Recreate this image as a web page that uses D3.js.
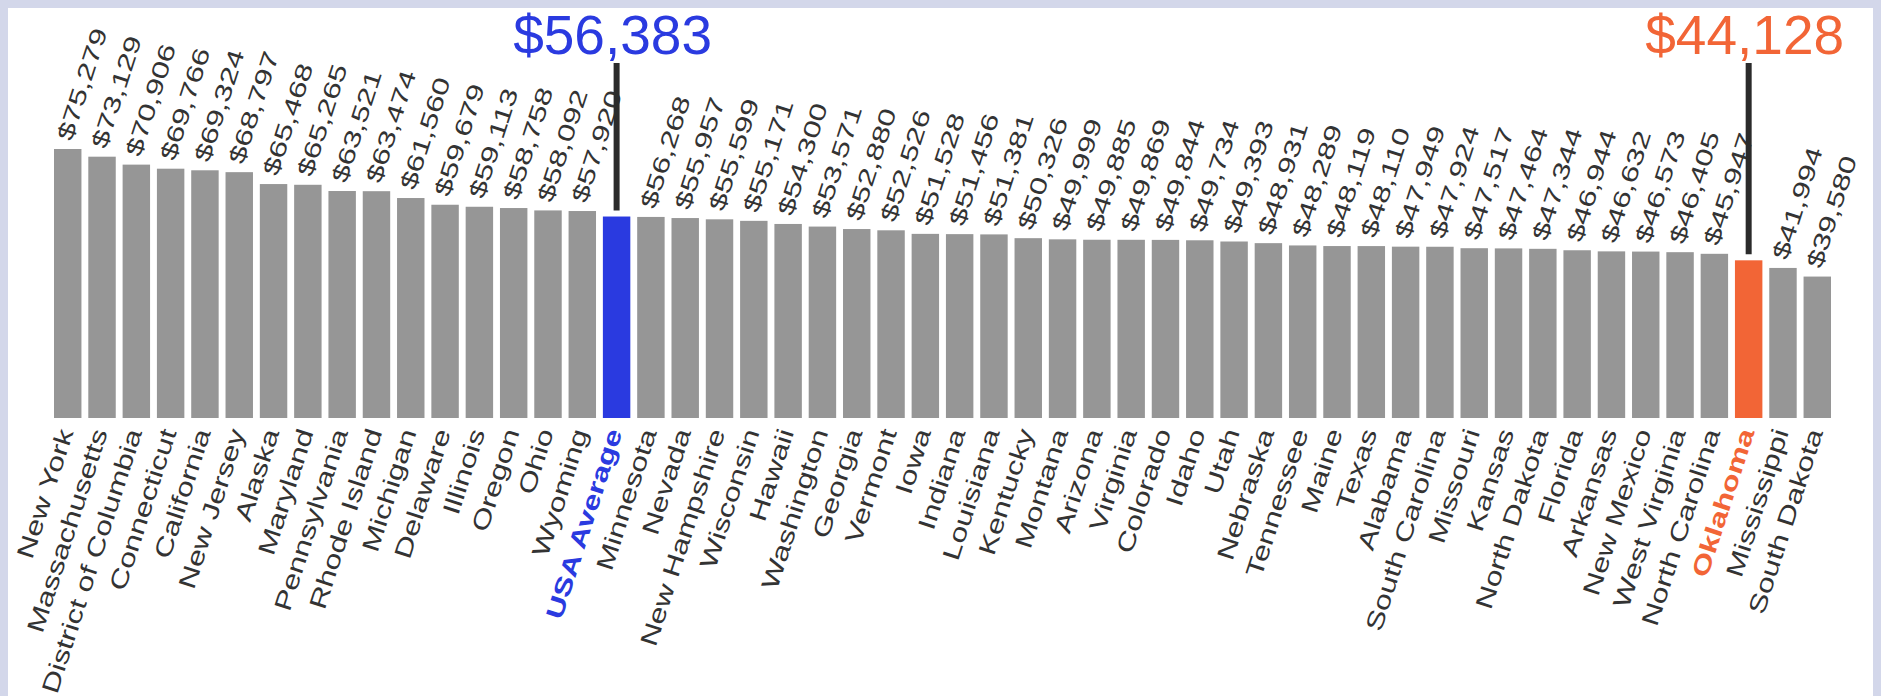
<!DOCTYPE html>
<html>
<head>
<meta charset="utf-8">
<script src="https://cdn.jsdelivr.net/npm/d3@7/dist/d3.min.js"></script>
<style>
  html, body { margin: 0; padding: 0; background: #d3d7ea; }
  svg { display: block; }
  text { font-family: "Liberation Sans", Arial, Helvetica, sans-serif; }
</style>
</head>
<body>
<svg id="chart" width="1881" height="696"></svg>
<script>
const categories = ["New York","Massachusetts","District of Columbia","Connecticut","California","New Jersey","Alaska","Maryland","Pennsylvania","Rhode Island","Michigan","Delaware","Illinois","Oregon","Ohio","Wyoming","USA Average","Minnesota","Nevada","New Hampshire","Wisconsin","Hawaii","Washington","Georgia","Vermont","Iowa","Indiana","Louisiana","Kentucky","Montana","Arizona","Virginia","Colorado","Idaho","Utah","Nebraska","Tennessee","Maine","Texas","Alabama","South Carolina","Missouri","Kansas","North Dakota","Florida","Arkansas","New Mexico","West Virginia","North Carolina","Oklahoma","Mississippi","South Dakota"];
const values = [75279,73129,70906,69766,69324,68797,65468,65265,63521,63474,61560,59679,59113,58758,58092,57920,56383,56268,55957,55599,55171,54300,53571,52880,52526,51528,51456,51381,50326,49999,49885,49869,49844,49734,49393,48931,48289,48119,48110,47949,47924,47517,47464,47344,46944,46632,46573,46405,45947,44128,41994,39580];
const highlightNames = ["USA Average","Oklahoma"];
const highlightColors = ["#2a3ae0","#f26536"];

const data = categories.map((c, i) => ({ name: c, value: values[i] }));
const hlColor = new Map(highlightNames.map((n, i) => [n, highlightColors[i]]));
const fmt = v => "$" + d3.format(",")(v);

const svg = d3.select("#chart");
const W = 1881, H = 696;

svg.append("rect").attr("x", 0).attr("y", 0).attr("width", W).attr("height", H).attr("fill", "#d3d7ea");
svg.append("rect").attr("x", 8).attr("y", 8).attr("width", 1865).attr("height", H - 8).attr("fill", "#ffffff");

const x = d3.scaleBand().domain(categories).range([54, 1831]).paddingInner(0.2).paddingOuter(0);
const y = d3.scaleLinear().domain([0, d3.max(values)]).range([418, 149]);

const ANG = 72;

svg.append("g").selectAll("rect").data(data).join("rect")
  .attr("x", d => x(d.name))
  .attr("y", d => y(d.value))
  .attr("width", x.bandwidth())
  .attr("height", d => y(0) - y(d.value))
  .attr("fill", d => hlColor.get(d.name) || "#969696");

// value labels
svg.append("g").selectAll("text").data(data.filter(d => !hlColor.has(d.name))).join("text")
  .attr("transform", d => `translate(${x(d.name) + x.bandwidth() / 2 + 4},${y(d.value) - 7}) rotate(${-ANG}) scale(1.4,1)`)
  .attr("text-anchor", "start")
  .attr("font-size", 23)
  .attr("fill", "#333333")
  .text(d => fmt(d.value));

// category labels
svg.append("g").selectAll("text").data(data).join("text")
  .attr("transform", d => `translate(${x(d.name) + x.bandwidth() / 2 + 6},432) rotate(${-ANG}) scale(1.33,1)`)
  .attr("text-anchor", "end")
  .attr("font-size", 24)
  .attr("font-weight", d => hlColor.has(d.name) ? "bold" : "normal")
  .attr("fill", d => hlColor.get(d.name) || "#333333")
  .text(d => d.name);

// highlight markers
const hl = data.filter(d => hlColor.has(d.name));
svg.append("g").selectAll("line").data(hl).join("line")
  .attr("x1", d => x(d.name) + x.bandwidth() / 2)
  .attr("x2", d => x(d.name) + x.bandwidth() / 2)
  .attr("y1", 63)
  .attr("y2", d => y(d.value) - 6)
  .attr("stroke", "#2b2b2b")
  .attr("stroke-width", 6);

svg.append("g").selectAll("text").data(hl).join("text")
  .attr("x", d => x(d.name) + x.bandwidth() / 2 - 4)
  .attr("y", 54)
  .attr("text-anchor", "middle")
  .attr("font-size", 55)
  .attr("fill", d => hlColor.get(d.name))
  .text(d => fmt(d.value));
</script>
</body>
</html>
